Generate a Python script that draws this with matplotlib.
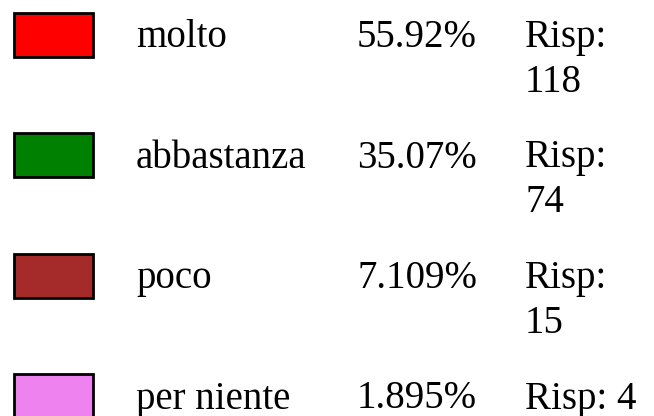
import matplotlib
matplotlib.use("Agg")
import matplotlib.pyplot as plt
from matplotlib.patches import Rectangle

categories = ["molto", "abbastanza", "poco", "per niente"]
percent_labels = ["55.92%", "35.07%", "7.109%", "1.895%"]
counts = [118, 74, 15, 4]
colors = ["#ff0000", "#008000", "#a52a2a", "#ee82ee"]

W, H = 654, 416
fig = plt.figure(figsize=(W / 100, H / 100), dpi=100)
ax = fig.add_axes([0, 0, 1, 1])
ax.set_xlim(0, W)
ax.set_ylim(H, 0)
ax.axis("off")

font = dict(family="Liberation Serif", fontsize=28, color="black", va="baseline", ha="left")
row_step = 120.5
for i, (cat, pct, n, c) in enumerate(zip(categories, percent_labels, counts, colors)):
    y0 = i * row_step
    ax.add_patch(Rectangle((14, y0 + 12.5), 79, 44, facecolor=c, edgecolor="black", linewidth=2))
    base = y0 + 47
    ax.text(136, base, cat, **font)
    ax.text(357, base, pct, **font)
    if n >= 10:
        ax.text(525, base, "Risp:", **font)
        ax.text(525, base + 45, str(n), **font)
    else:
        ax.text(525, base, f"Risp: {n}", **font)

fig.savefig("out.png", dpi=100)
